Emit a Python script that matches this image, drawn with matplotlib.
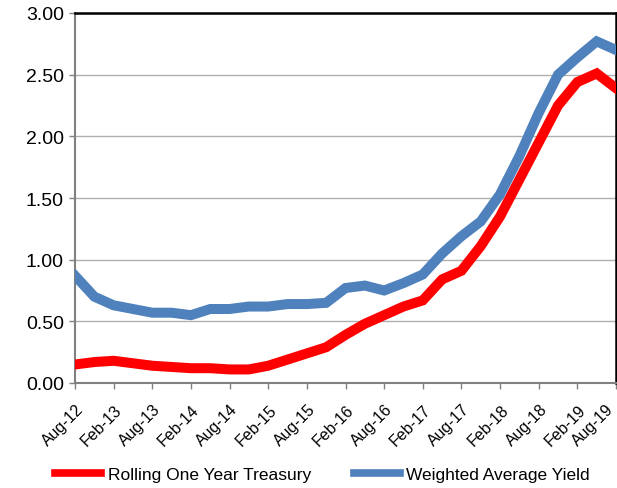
import matplotlib
matplotlib.use("Agg")
import matplotlib.pyplot as plt
from matplotlib.transforms import ScaledTranslation

quarters = ["Aug-12", "Nov-12", "Feb-13", "May-13", "Aug-13", "Nov-13", "Feb-14", "May-14",
            "Aug-14", "Nov-14", "Feb-15", "May-15", "Aug-15", "Nov-15", "Feb-16", "May-16",
            "Aug-16", "Nov-16", "Feb-17", "May-17", "Aug-17", "Nov-17", "Feb-18", "May-18",
            "Aug-18", "Nov-18", "Feb-19", "May-19", "Aug-19"]
treasury = [0.15, 0.17, 0.18, 0.16, 0.14, 0.13, 0.12, 0.12, 0.11, 0.11, 0.14, 0.19, 0.24,
            0.29, 0.39, 0.48, 0.55, 0.62, 0.67, 0.84, 0.91, 1.11, 1.35, 1.65, 1.95, 2.25,
            2.44, 2.51, 2.39]
wavg_yield = [0.87, 0.70, 0.63, 0.60, 0.57, 0.57, 0.55, 0.60, 0.60, 0.62, 0.62, 0.64, 0.64,
              0.65, 0.77, 0.79, 0.75, 0.81, 0.88, 1.05, 1.19, 1.31, 1.53, 1.84, 2.19, 2.50,
              2.64, 2.77, 2.70]
tick_labels = quarters[::2]
y_ticks = [0.0, 0.5, 1.0, 1.5, 2.0, 2.5, 3.0]
series_names = ["Rolling One Year Treasury", "Weighted Average Yield"]

plt.rcParams['font.family'] = ['Liberation Sans', 'DejaVu Sans']

fig = plt.figure(figsize=(6.17, 4.89), dpi=100)
ax = fig.add_axes([75/617, 1 - 384/489, (616-75)/617, (384-14)/489])

x = list(range(len(quarters)))
ax.plot(x, treasury, color="#FF0000", lw=7.2, solid_joinstyle="miter", label=series_names[0], zorder=3)
ax.plot(x, wavg_yield, color="#4F81BD", lw=7.2, solid_joinstyle="miter", label=series_names[1], zorder=3)

ax.set_xlim(0, len(quarters) - 1)
ax.set_ylim(0, 3.0)
ax.set_yticks(y_ticks)
ax.set_yticklabels([f"{v:.2f}" for v in y_ticks], fontsize=14)
ax.set_xticks(x[::2])
ax.set_xticklabels(tick_labels, rotation=45, ha="right", va="center",
                   rotation_mode="anchor", fontsize=11.5)

ax.grid(axis="y", color="#B0B0B0", lw=1.0, zorder=0)
ax.set_axisbelow(True)
for s in ["left", "bottom"]:
    ax.spines[s].set_color("#808080")
    ax.spines[s].set_linewidth(1.5)
for s in ["top", "right"]:
    ax.spines[s].set_color("black")
    ax.spines[s].set_linewidth(1.8)
ax.tick_params(axis="both", direction="out", length=4, color="#808080", width=1)
ax.tick_params(axis="y", pad=4)
ax.tick_params(axis="x", pad=13)

# shift x labels so their upper end sits just right of the tick, last one kept inside
lbls = ax.get_xticklabels()
for i, t in enumerate(lbls):
    dx = 6/100 if i < len(lbls) - 1 else -5/100
    t.set_transform(t.get_transform() + ScaledTranslation(dx, 0, fig.dpi_scale_trans))

leg = fig.legend(loc="center", bbox_to_anchor=(0.523, 1 - 475/489), ncol=2, frameon=False,
                 fontsize=12.5, handlelength=2.65, columnspacing=2.5, handletextpad=0.35)
for h in leg.get_lines():
    h.set_linewidth(5.5)

fig.savefig("out.png", dpi=100)
